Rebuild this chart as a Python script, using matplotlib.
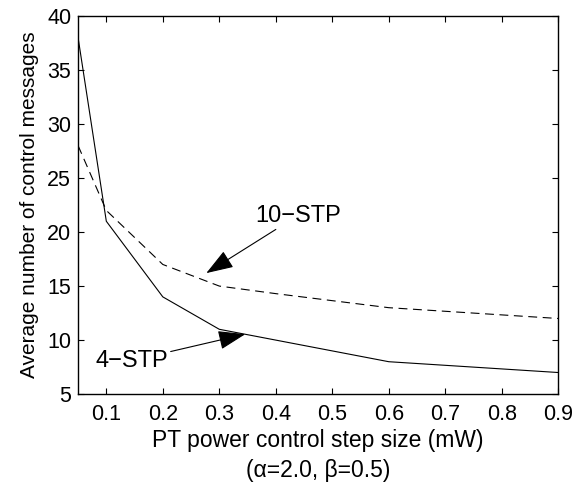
import matplotlib.pyplot as plt

plt.rcParams['font.family'] = ['Liberation Sans', 'DejaVu Sans']

step = [0.05, 0.1, 0.2, 0.3, 0.4, 0.6, 0.9]
stp4 = [38, 21, 14, 11, 10, 8, 7]
stp10 = [28, 22, 17, 15, 14.3, 13, 12]
xticks = [0.1, 0.2, 0.3, 0.4, 0.5, 0.6, 0.7, 0.8, 0.9]
yticks = [5, 10, 15, 20, 25, 30, 35, 40]

fig = plt.figure(figsize=(5.87, 4.83), dpi=100)
ax = fig.add_axes([0.133, 0.184, 0.818, 0.783])

ax.plot(step, stp4, color='k', lw=0.8)
ax.plot(step, stp10, color='k', lw=0.8, ls=(0, (8, 5)))

ax.set_xlim(0.05, 0.9)
ax.set_ylim(5, 40)
ax.set_xticks(xticks)
ax.set_yticks(yticks)
ax.tick_params(direction='in', top=True, right=True, labelsize=15.5, length=4, width=0.8)
ax.tick_params(axis='x', pad=7)
ax.tick_params(axis='y', pad=5)
for s in ax.spines.values():
    s.set_linewidth(1.0)

ax.set_xlabel("PT power control step size (mW)\n(\u03b1=2.0, \u03b2=0.5)", fontsize=16.5,
              labelpad=3, linespacing=1.4)
ax.set_ylabel("Average number of control messages", fontsize=15, labelpad=6)

arrow = dict(arrowstyle='-|>,head_length=1.0,head_width=0.35', color='k', lw=0.8,
             shrinkA=0, shrinkB=0)
ax.annotate("10\u2212STP", xy=(0.277, 16.2), xytext=(0.363, 20.5), fontsize=17,
            ha='left', va='bottom', arrowprops=arrow)
ax.annotate("4\u2212STP", xy=(0.346, 10.55), xytext=(0.209, 8.1), fontsize=17,
            ha='right', va='center', arrowprops=arrow)

fig.savefig("out.png", dpi=100)
